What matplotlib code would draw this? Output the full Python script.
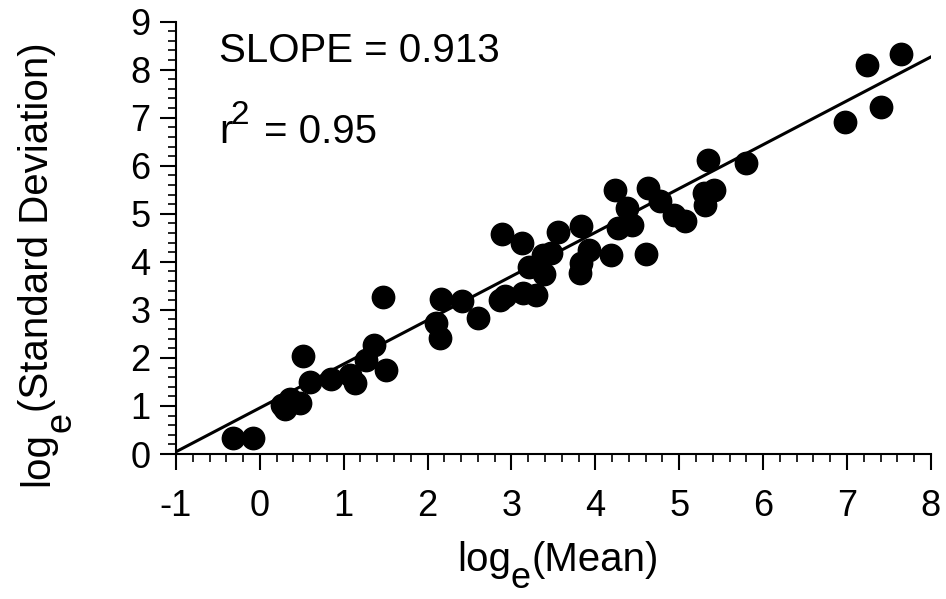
import numpy as np
import matplotlib.pyplot as plt
from matplotlib.ticker import MultipleLocator

plt.rcParams['font.family'] = 'Liberation Sans'
plt.rcParams['axes.unicode_minus'] = False

# log_e(mean) and log_e(standard deviation)
logMean = [-0.32, -0.08, 0.26, 0.30, 0.36, 0.48, 0.52, 0.60, 0.85, 1.07,
           1.13, 1.27, 1.36, 1.47, 1.51, 2.10, 2.15, 2.16, 2.41, 2.60,
           2.86, 2.89, 2.92, 3.13, 3.14, 3.21, 3.29, 3.37, 3.39, 3.47,
           3.56, 3.82, 3.83, 3.83, 3.93, 4.19, 4.23, 4.27, 4.38, 4.44,
           4.60, 4.63, 4.77, 4.94, 5.07, 5.30, 5.31, 5.34, 5.42, 5.80,
           6.98, 7.24, 7.40, 7.64]
logSD = [0.34, 0.33, 1.02, 0.94, 1.15, 1.07, 2.03, 1.49, 1.56, 1.65,
         1.47, 1.96, 2.27, 3.26, 1.75, 2.73, 2.42, 3.22, 3.19, 2.83,
         3.21, 4.58, 3.28, 4.39, 3.36, 3.90, 3.30, 4.15, 3.75, 4.19,
         4.63, 3.77, 4.74, 3.98, 4.25, 4.15, 5.50, 4.70, 5.12, 4.77,
         4.16, 5.53, 5.26, 4.98, 4.84, 5.44, 5.19, 6.11, 5.49, 6.05,
         6.91, 8.09, 7.22, 8.33]

slope = 0.913
intercept = 0.96
r2 = 0.95

W, H = 946, 599
fig = plt.figure(figsize=(W / 100, H / 100), dpi=100)
ax = fig.add_axes([0.186, 0.242, 0.798, 0.722])

ax.scatter(logMean, logSD, s=260, color='black', zorder=3, clip_on=False)
xLine = np.array([-1, 8])
ax.plot(xLine, slope * xLine + intercept, color='black', lw=2.2)

ax.set_xlim(-1, 8)
ax.set_ylim(0, 9)
ax.xaxis.set_major_locator(MultipleLocator(1))
ax.xaxis.set_minor_locator(MultipleLocator(0.2))
ax.yaxis.set_major_locator(MultipleLocator(1))
ax.yaxis.set_minor_locator(MultipleLocator(0.2))

#only left and bottom axes
for s in ['top', 'right']:
    ax.spines[s].set_visible(False)
for s in ['left', 'bottom']:
    ax.spines[s].set_linewidth(1.5)
ax.tick_params(which='major', direction='out', length=11.5, width=1.5,
               labelsize=26)
ax.tick_params(axis='x', which='major', pad=14)
ax.tick_params(axis='y', which='major', pad=7)
ax.tick_params(which='minor', direction='out', length=6, width=1.2)


def px(x, y):
    # pixel position (from top left) -> figure fraction
    return x / W, 1 - y / H


renderer = fig.canvas.get_renderer()


def chainText(pieces, x0, y0, vertical=False):
    # pieces: (text, fontsize, drop in px); big drop for the subscripts
    pos = y0 if vertical else x0
    for s, size, drop in pieces:
        if vertical:
            t = fig.text(*px(x0 + drop, pos), s, fontsize=size, rotation=90,
                         rotation_mode='anchor', ha='left', va='baseline')
            pos -= t.get_window_extent(renderer).height
        else:
            t = fig.text(*px(pos, y0 + drop), s, fontsize=size,
                         ha='left', va='baseline')
            pos += t.get_window_extent(renderer).width


chainText([('log', 29, 0), ('e', 26, 17), ('(Mean)', 29, 0)], 457, 571)
chainText([('log', 29, 0), ('e', 26, 22), ('(Standard Deviation)', 29, 0)],
          48, 486, vertical=True)

chainText([('SLOPE = %.3f' % slope, 29, 0)], 219, 62)
chainText([('r', 29, 0)], 219, 143)
fig.text(*px(230, 124), '2', fontsize=24, ha='left', va='baseline')
fig.text(*px(264, 143), '= %.2f' % r2, fontsize=29, ha='left', va='baseline')

fig.savefig('out.png', dpi=100)
